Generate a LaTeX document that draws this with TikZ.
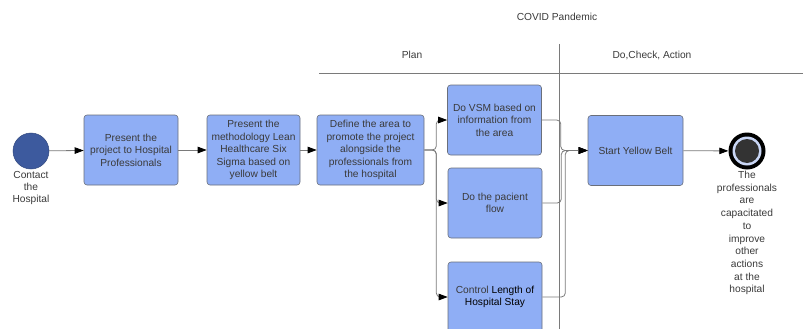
\documentclass[tikz,border=0pt]{standalone}
\usepackage{fontspec}
\setmainfont{Liberation Sans}
\usetikzlibrary{arrows.meta}
\definecolor{boxblue}{HTML}{8FAEF5}
\definecolor{boxline}{HTML}{6A6F7A}
\definecolor{txt}{HTML}{3A3A3A}
\definecolor{conn}{HTML}{7A7A7A}
\definecolor{startblue}{HTML}{3D5A9E}
\definecolor{ringblue}{HTML}{C9D6F5}
\definecolor{enddark}{HTML}{333333}
\tikzset{
  procbox/.style={draw=boxline, fill=boxblue, rounded corners=3pt, line width=0.6pt,
    minimum width=94pt, minimum height=70pt, align=center, text=txt, inner sep=2pt,
    font=\fontsize{10.2}{12.5}\selectfont},
  lbl/.style={text=txt, align=center, font=\fontsize{10.2}{12.5}\selectfont, inner sep=0pt},
  link/.style={draw=conn, line width=0.8pt, rounded corners=4pt},
  arr/.style={link, -{Triangle[length=9pt,width=6.5pt,color=black]}},
  lane/.style={draw=conn, line width=0.7pt}
}
\begin{document}
\begin{tikzpicture}[x=1pt,y=-1pt]
\clip (0,0) rectangle (803,329);
\useasboundingbox (0,0) rectangle (803,329);

% swimlane headers
\node[lbl] (covid) at (557,17) {COVID Pandemic};
\node[lbl] (plan) at (412,55) {Plan};
\node[lbl] (dca) at (652,55) {Do,Check, Action};
\coordinate (hl) at (319,73);
\coordinate (hr) at (803,73);
\coordinate (vt) at (559,44);
\coordinate (vb) at (559,329);
\draw[lane] (hl) -- (hr);
\draw[lane] (vt) -- (vb);

% start
\node[circle, fill=startblue, draw=startblue!80!black, line width=0.5pt, minimum size=36pt, inner sep=0pt] (startc) at (31,151) {};
\node[lbl, anchor=north, font=\fontsize{10.2}{12}\selectfont] (startl) at (31,171) {Contact\\the\\Hospital};

% boxes
\node[procbox] (b1) at (131,150) {Present the\\project to Hospital\\Professionals};
\node[procbox, minimum width=93pt] (b2) at (253.5,150) {Present the\\methodology Lean\\Healthcare Six\\Sigma based on\\yellow belt};
\node[procbox, minimum width=107pt] (b3) at (370.5,150) {Define the area to\\promote the project\\alongside the\\professionals from\\the hospital};
\node[procbox] (vsm) at (494.5,120) {Do VSM based on\\information from\\the area};
\node[procbox] (flow) at (495,203) {Do the pacient\\flow};
\node[procbox] (ctrl) at (495,297) {Control {\color{black}Length of}\\{\color{black}Hospital Stay}};
\node[procbox, minimum width=95pt] (syb) at (635.5,150.5) {Start Yellow Belt};

% end
\node[circle, fill=black, minimum size=37pt, inner sep=0pt] (endc) at (747,151) {};
\node[circle, fill=ringblue, minimum size=29pt, inner sep=0pt] (endr) at (747,151) {};
\node[circle, fill=enddark, minimum size=24pt, inner sep=0pt] (endi) at (747,151) {};
\node[lbl, anchor=north, font=\fontsize{10.2}{12.7}\selectfont] (endl) at (747,171) {The\\professionals\\are\\capacitated\\to\\improve\\other\\actions\\at the\\hospital};

% connectors
\draw[arr] (startc) -- (b1);
\draw[arr] (b1) -- (b2);
\draw[arr] (b2) -- (b3);
\draw[arr] (b3.east) -- ++(12,0) |- (vsm.west);
\draw[arr] (b3.east) -- ++(12,0) |- (flow.west);
\draw[arr] (b3.east) -- ++(12,0) |- (ctrl.west);
\draw[arr] (vsm.east) -- ++(19,0) |- (syb.west);
\draw[arr] (flow.east) -- ++(19,0) |- (syb.west);
\draw[arr] (ctrl.east) -- ++(23,0) |- (syb.west);
\draw[arr] (syb) -- (endc);
\end{tikzpicture}
\end{document}
